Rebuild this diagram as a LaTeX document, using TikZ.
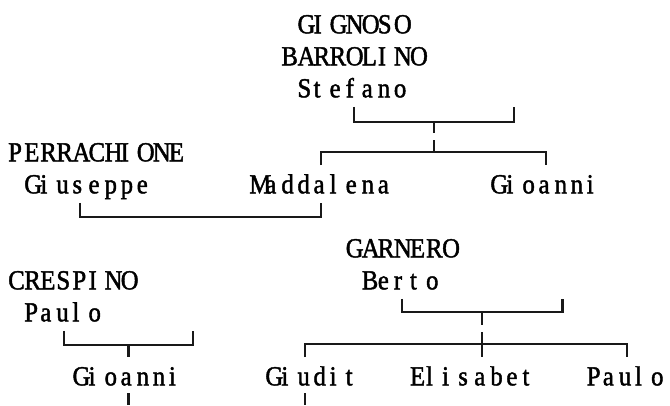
\documentclass[tikz,border=0pt]{standalone}
\usepackage{fontspec}
\newfontfamily\treefont[FakeStretch=0.9,FakeBold=1.6]{Liberation Serif}
\newlength\cellw
\setlength\cellw{16.07pt}
% one letter per fixed cell
\def\cells#1{\cellsloop#1\relax}
\def\cellsloop#1{\ifx#1\relax\else\makebox[\cellw][l]{#1}\expandafter\cellsloop\fi}

\tikzset{
  person/.style={anchor=base west, inner sep=0pt, font={\treefont\fontsize{27.5pt}{32pt}\selectfont}},
  bar/.style={line width=2.1pt, black!90}
}

\begin{document}
\begin{tikzpicture}[x=16.07pt, y=-32pt]
    \useasboundingbox (-0.498,-0.75) rectangle (41.19,11.906);

    % people
    \node[person] (gignoso) at (18,0.29) {\cells{GIGNOSO}};
    \node[person] (barrolino) at (17,1.29) {\cells{BARROLINO}};
    \node[person] (stefano) at (18,2.29) {\cells{Stefano}};
    \node[person] (perrachione) at (0,4.29) {\cells{PERRACHIONE}};
    \node[person] (giuseppe) at (1,5.29) {\cells{Giuseppe}};
    \node[person] (maddalena) at (15,5.29) {\cells{Maddalena}};
    \node[person] (gioanni) at (30,5.29) {\cells{Gioanni}};
    \node[person] (garnero) at (21,7.29) {\cells{GARNERO}};
    \node[person] (crespino) at (0,8.29) {\cells{CRESPINO}};
    \node[person] (berto) at (22,8.29) {\cells{Berto}};
    \node[person] (paulo) at (1,9.29) {\cells{Paulo}};
    \node[person] (gioanniB) at (4,11.29) {\cells{Gioanni}};
    \node[person] (giudit) at (16,11.29) {\cells{Giudit}};
    \node[person] (elisabet) at (25,11.29) {\cells{Elisabet}};
    \node[person] (pauloB) at (36,11.29) {\cells{Paulo}};

    % Stefano's couple
    \coordinate (stA) at (21.5,2.59);
    \coordinate (stB) at (31.5,2.59);
    \coordinate (stC) at (26.5,3.05);
    \coordinate (stD) at (26.5,3.41);
    \draw[bar] (stA) |- (stC) -| (stB);
    \draw[bar] (stC) -- (stD);

    % Stefano's children
    \coordinate (chA) at (26.5,3.625);
    \coordinate (chB) at (26.5,4);
    \coordinate (chC) at (19.5,4.41);
    \coordinate (chD) at (33.5,4.41);
    \draw[bar] (chA) -- (chB);
    \draw[bar] (chC) |- (chB) -| (chD);

    % Giuseppe + Maddalena
    \coordinate (gmA) at (4.5,5.59);
    \coordinate (gmB) at (19.5,5.59);
    \coordinate (gmC) at (12,6.03);
    \draw[bar] (gmA) |- (gmC) -| (gmB);

    % Berto's couple
    \coordinate (bA) at (24.5,8.59);
    \coordinate (bB) at (34.5,8.59);
    \coordinate (bC) at (29.5,9);
    \coordinate (bD) at (29.5,9.41);
    \draw[bar] (bA) |- (bC) -| (bB);
    \draw[bar] (bC) -- (bD);

    % Berto's children
    \coordinate (kA) at (29.5,9.625);
    \coordinate (kB) at (29.5,10);
    \coordinate (kC) at (18.5,10.41);
    \coordinate (kD) at (38.5,10.41);
    \coordinate (kE) at (29.5,10.41);
    \draw[bar] (kA) -- (kE);
    \draw[bar] (kC) |- (kB) -| (kD);

    % Paulo's couple and son
    \coordinate (pA) at (3.5,9.59);
    \coordinate (pB) at (11.5,9.59);
    \coordinate (pC) at (7.5,10.03);
    \coordinate (pD) at (7.5,10.41);
    \draw[bar] (pA) |- (pC) -| (pB);
    \draw[bar] (pC) -- (pD);

    % going on below
    \coordinate (gA) at (7.5,11.53);
    \coordinate (gB) at (7.5,11.906);
    \coordinate (dA) at (18.5,11.53);
    \coordinate (dB) at (18.5,11.906);
    \draw[bar] (gA) -- (gB);
    \draw[bar] (dA) -- (dB);
\end{tikzpicture}
\end{document}
